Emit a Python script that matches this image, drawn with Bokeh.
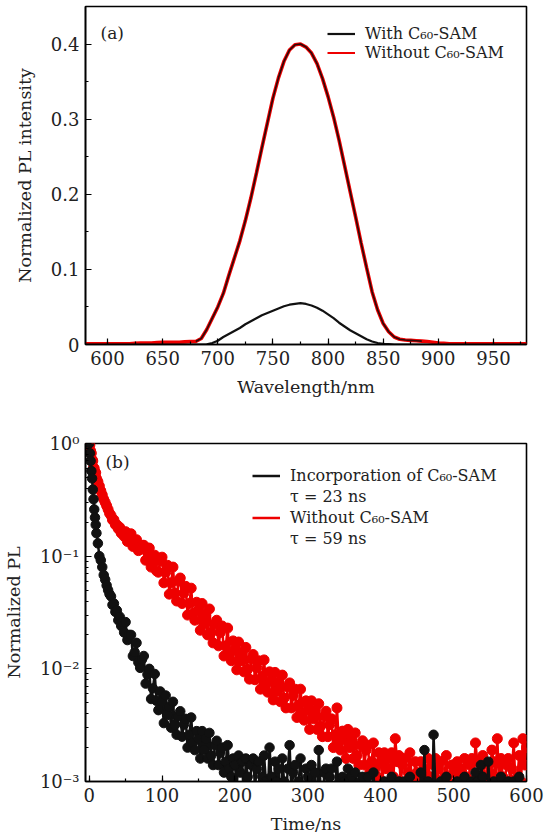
from bokeh.plotting import figure
from bokeh.layouts import column
from bokeh.models import (SingleIntervalTicker, FixedTicker, CustomJSTickFormatter,
                          Legend, LegendItem, Label)
from bokeh.embed import file_html
from bokeh.resources import INLINE

FONT = "DejaVu Serif"

# ---------------- panel (a): PL spectra ----------------
wavelength = [580, 585, 590, 595, 600, 605, 610, 615, 620, 625,
              630, 635, 640, 645, 650, 655, 660, 665, 670, 675,
              680, 685, 690, 695, 700, 705, 710, 715, 720, 725,
              730, 735, 740, 745, 750, 755, 760, 765, 770, 775,
              780, 785, 790, 795, 800, 805, 810, 815, 820, 825,
              830, 835, 840, 845, 850, 855, 860, 865, 870, 875,
              880, 885, 890, 895, 900, 905, 910, 915, 920, 925,
              930, 935, 940, 945, 950, 955, 960, 965, 970, 975,
              980]
pl_without = [0.001, 0.001, 0.001, 0.001, 0.001, 0.001, 0.001, 0.001, 0.001, 0.0015,
              0.002, 0.002, 0.002, 0.0025, 0.003, 0.003, 0.003, 0.003, 0.0035, 0.004,
              0.004, 0.008, 0.020, 0.035, 0.050, 0.068, 0.092, 0.115, 0.138, 0.165,
              0.195, 0.228, 0.262, 0.295, 0.328, 0.355, 0.377, 0.392, 0.399, 0.400,
              0.396, 0.388, 0.374, 0.354, 0.330, 0.303, 0.272, 0.238, 0.204, 0.170,
              0.135, 0.102, 0.070, 0.046, 0.028, 0.017, 0.010, 0.007, 0.006, 0.0055,
              0.005, 0.0045, 0.004, 0.003, 0.002, 0.0015, 0.001, 0.001, 0.001, 0.001,
              0.001, 0.001, 0.001, 0.001, 0.001, 0.001, 0.001, 0.001, 0.001, 0.001,
              0.001]
pl_with = [0, 0, 0, 0, 0, 0, 0, 0, 0, 0,
           0, 0, 0, 0, 0, 0, 0, 0, 0, 0,
           0, 0, 0.0003, 0.002, 0.005, 0.010, 0.014, 0.018, 0.022, 0.027,
           0.031, 0.035, 0.039, 0.042, 0.045, 0.048, 0.051, 0.053, 0.054, 0.055,
           0.054, 0.052, 0.049, 0.045, 0.040, 0.035, 0.029, 0.024, 0.019, 0.015,
           0.011, 0.007, 0.004, 0.002, 0.001, 0.0005, 0, 0, 0, 0,
           0, 0, 0, 0, 0, 0, 0, 0, 0, 0,
           0, 0, 0, 0, 0, 0, 0, 0, 0, 0,
           0]
labels_a = ["With C\u2086\u2080-SAM", "Without C\u2086\u2080-SAM"]

# ---------------- panel (b): TRPL decays ----------------
time_ns = [0, 1, 2, 3, 4, 5, 6, 7, 8, 9,
           10, 12, 14, 16, 18, 20, 22, 24, 26, 28,
           30, 32, 34, 36, 38, 40, 42, 44, 46, 48,
           50, 52.5, 55, 57.5, 60, 62.5, 65, 67.5, 70, 72.5,
           75, 77.5, 80, 82.5, 85, 87.5, 90, 92.5, 95, 97.5,
           100, 102.5, 105, 107.5, 110, 112.5, 115, 117.5, 120, 122.5,
           125, 127.5, 130, 132.5, 135, 137.5, 140, 142.5, 145, 147.5,
           150, 152.5, 155, 157.5, 160, 162.5, 165, 167.5, 170, 172.5,
           175, 177.5, 180, 182.5, 185, 187.5, 190, 192.5, 195, 197.5,
           200, 202.5, 205, 207.5, 210, 212.5, 215, 217.5, 220, 222.5,
           225, 227.5, 230, 232.5, 235, 237.5, 240, 242.5, 245, 247.5,
           250, 252.5, 255, 257.5, 260, 262.5, 265, 267.5, 270, 272.5,
           275, 277.5, 280, 282.5, 285, 287.5, 290, 292.5, 295, 297.5,
           300, 302.5, 305, 307.5, 310, 312.5, 315, 317.5, 320, 322.5,
           325, 327.5, 330, 332.5, 335, 337.5, 340, 342.5, 345, 347.5,
           350, 352.5, 355, 357.5, 360, 362.5, 365, 367.5, 370, 372.5,
           375, 377.5, 380, 382.5, 385, 387.5, 390, 392.5, 395, 397.5,
           400, 402.5, 405, 407.5, 410, 412.5, 415, 417.5, 420, 422.5,
           425, 427.5, 430, 432.5, 435, 437.5, 440, 442.5, 445, 447.5,
           450, 452.5, 455, 457.5, 460, 462.5, 465, 467.5, 470, 472.5,
           475, 477.5, 480, 482.5, 485, 487.5, 490, 492.5, 495, 497.5,
           500, 502.5, 505, 507.5, 510, 512.5, 515, 517.5, 520, 522.5,
           525, 527.5, 530, 532.5, 535, 537.5, 540, 542.5, 545, 547.5,
           550, 552.5, 555, 557.5, 560, 562.5, 565, 567.5, 570, 572.5,
           575, 577.5, 580, 582.5, 585, 587.5, 590, 592.5, 595, 597.5,
           600]
decay_with = [1.00, 0.82, 0.70, 0.57, 0.49, 0.39, 0.32, 0.26, 0.22, 0.19,
              0.16, 0.13, 0.10, 0.092, 0.080, 0.068, 0.062, 0.055, 0.050, 0.046,
              0.044, 0.037, 0.038, 0.032, 0.033, 0.027, 0.029, 0.024, 0.026, 0.021,
              0.026, 0.018, 0.020, 0.020, 0.013, 0.014, 0.017, 0.0114, 0.0102, 0.0121,
              0.013, 0.0074, 0.0089, 0.010, 0.0054, 0.0067, 0.0090, 0.0052, 0.0043, 0.0063,
              0.0051, 0.0033, 0.0058, 0.0039, 0.0046, 0.0030, 0.0051, 0.0032, 0.0026, 0.0038,
              0.0042, 0.0025, 0.0032, 0.0036, 0.0020, 0.0026, 0.0037, 0.0022, 0.0019, 0.0028,
              0.0024, 0.0016, 0.0028, 0.0019, 0.0024, 0.0016, 0.0027, 0.0017, 0.0014, 0.0021,
              0.0023, 0.0014, 0.0018, 0.0020, 0.0012, 0.0015, 0.0021, 0.0013, 0.0011, 0.0016,
              0.0014, 0.0009, 0.0017, 0.0012, 0.0015, 0.0006, 0.0016, 0.0011, 0.0008, 0.0014,
              0.0016, 0.0009, 0.0013, 0.0015, 0.0005, 0.0011, 0.0017, 0.0010, 0.0007, 0.0020,
              0.0011, 0.0005, 0.0015, 0.0010, 0.0013, 0.0004, 0.0016, 0.0010, 0.0007, 0.0013,
              0.0021, 0.0008, 0.0012, 0.0014, 0.0005, 0.0010, 0.0016, 0.0009, 0.0004, 0.0013,
              0.0011, 0.0005, 0.0014, 0.0009, 0.0012, 0.0004, 0.0019, 0.0009, 0.0005, 0.0012,
              0.0013, 0.0006, 0.0011, 0.0013, 0.0004, 0.0009, 0.0015, 0.0008, 0.0004, 0.0011,
              0.0010, 0.0004, 0.0013, 0.0008, 0.0011, 0.0004, 0.0012, 0.0008, 0.0004, 0.0010,
              0.0011, 0.0005, 0.0009, 0.0011, 0.0004, 0.0008, 0.0012, 0.0007, 0.0004, 0.0009,
              0.0008, 0.0004, 0.0010, 0.0007, 0.0009, 0.0004, 0.0011, 0.0006, 0.0004, 0.0009,
              0.0010, 0.0004, 0.0008, 0.0010, 0.0004, 0.0007, 0.0011, 0.0006, 0.0004, 0.0009,
              0.0008, 0.0004, 0.0012, 0.0007, 0.0019, 0.0004, 0.0010, 0.0006, 0.0004, 0.0026,
              0.0009, 0.0004, 0.0008, 0.0010, 0.0004, 0.0007, 0.0011, 0.0006, 0.0004, 0.0009,
              0.0008, 0.0004, 0.0010, 0.0007, 0.0009, 0.0004, 0.0011, 0.0006, 0.0004, 0.0009,
              0.0010, 0.0004, 0.0012, 0.0010, 0.0004, 0.0014, 0.0011, 0.0006, 0.0004, 0.0015,
              0.0008, 0.0004, 0.0010, 0.0007, 0.0009, 0.0004, 0.0011, 0.0006, 0.0004, 0.0009,
              0.0010, 0.0004, 0.0008, 0.0010, 0.0004, 0.0007, 0.0011, 0.0006, 0.0004, 0.0009,
              0.0004]
decay_without = [1.00, 0.97, 0.86, 0.82, 0.72, 0.70, 0.61, 0.60, 0.55, 0.55,
                 0.49, 0.46, 0.42, 0.38, 0.35, 0.32, 0.30, 0.28, 0.26, 0.24,
                 0.23, 0.21, 0.21, 0.19, 0.19, 0.175, 0.18, 0.16, 0.165, 0.15,
                 0.165, 0.135, 0.150, 0.158, 0.122, 0.135, 0.140, 0.112, 0.118, 0.125,
                 0.125, 0.092, 0.108, 0.118, 0.080, 0.088, 0.102, 0.074, 0.072, 0.090,
                 0.098, 0.058, 0.072, 0.083, 0.046, 0.058, 0.080, 0.047, 0.040, 0.060,
                 0.064, 0.038, 0.047, 0.054, 0.030, 0.038, 0.052, 0.031, 0.027, 0.039,
                 0.033, 0.022, 0.038, 0.025, 0.030, 0.020, 0.034, 0.021, 0.017, 0.025,
                 0.027, 0.016, 0.021, 0.024, 0.013, 0.016, 0.023, 0.0136, 0.0118, 0.0177,
                 0.0148, 0.0098, 0.0173, 0.0117, 0.0140, 0.0094, 0.0155, 0.0099, 0.0081, 0.0122,
                 0.0134, 0.0080, 0.0102, 0.0118, 0.0066, 0.0086, 0.0120, 0.0072, 0.0062, 0.0094,
                 0.0079, 0.0053, 0.0093, 0.0063, 0.0076, 0.0051, 0.0088, 0.0055, 0.0045, 0.0069,
                 0.0075, 0.0045, 0.0058, 0.0066, 0.0037, 0.0048, 0.0066, 0.0040, 0.0035, 0.0052,
                 0.0044, 0.0029, 0.0052, 0.0036, 0.0043, 0.0029, 0.0049, 0.0031, 0.0025, 0.0038,
                 0.0042, 0.0025, 0.0032, 0.0036, 0.0020, 0.0026, 0.0045, 0.0022, 0.0019, 0.0028,
                 0.0024, 0.0016, 0.0029, 0.0020, 0.0024, 0.0016, 0.0027, 0.0017, 0.0014, 0.0021,
                 0.0023, 0.0014, 0.0019, 0.0021, 0.0012, 0.0015, 0.0022, 0.0013, 0.0011, 0.0018,
                 0.0015, 0.0010, 0.0018, 0.0013, 0.0016, 0.0010, 0.0018, 0.0011, 0.0024, 0.0015,
                 0.0017, 0.0010, 0.0014, 0.0016, 0.0009, 0.0012, 0.0018, 0.0011, 0.0010, 0.0015,
                 0.0012, 0.0008, 0.0015, 0.0011, 0.0013, 0.0009, 0.0016, 0.0011, 0.0009, 0.0014,
                 0.0016, 0.0010, 0.0013, 0.0015, 0.0009, 0.0011, 0.0017, 0.0010, 0.0009, 0.0014,
                 0.0012, 0.0008, 0.0015, 0.0011, 0.0013, 0.0009, 0.0016, 0.0011, 0.0009, 0.0014,
                 0.0016, 0.0010, 0.0022, 0.0015, 0.0009, 0.0011, 0.0017, 0.0010, 0.0009, 0.0014,
                 0.0012, 0.0019, 0.0015, 0.0011, 0.0024, 0.0009, 0.0016, 0.0011, 0.0009, 0.0014,
                 0.0016, 0.0010, 0.0013, 0.0022, 0.0009, 0.0011, 0.0017, 0.0010, 0.0024, 0.0014,
                 0.0020]
labels_b = ["Incorporation of C\u2086\u2080-SAM", "\u03c4 = 23 ns",
            "Without C\u2086\u2080-SAM", "\u03c4 = 59 ns"]

RED = "#ee0000"
BLACK = "#111111"


def style(p):
    for ax in (p.xaxis[0], p.yaxis[0]):
        ax.axis_line_width = 1.6
        ax.axis_line_color = "black"
        ax.major_tick_in = 6
        ax.major_tick_out = 0
        ax.minor_tick_in = 3
        ax.minor_tick_out = 0
        ax.major_tick_line_width = 1.2
        ax.minor_tick_line_width = 1.2
        ax.major_label_text_font = FONT
        ax.major_label_text_font_size = "18px"
        ax.major_label_text_color = "#222222"
        ax.axis_label_text_font = FONT
        ax.axis_label_text_font_size = "17.5px"
        ax.axis_label_text_font_style = "normal"
        ax.axis_label_text_color = "#222222"
        ax.major_label_standoff = 6
    p.xgrid.visible = False
    p.ygrid.visible = False
    p.outline_line_color = "black"
    p.outline_line_width = 1.6
    p.outline_line_alpha = 1.0
    p.background_fill_color = "white"
    p.border_fill_color = "white"


# ---- figure (a)
p1 = figure(frame_width=441, frame_height=338, min_border_left=83, min_border_right=23,
            min_border_top=6, min_border_bottom=56,
            x_range=(580, 980), y_range=(0, 0.45),
            output_backend="svg", toolbar_location=None)
style(p1)
p1.xaxis.axis_label = "Wavelength/nm"
p1.yaxis.axis_label = "Normalized PL intensity"
p1.xaxis.ticker = SingleIntervalTicker(interval=50, num_minor_ticks=2)
p1.yaxis.ticker = SingleIntervalTicker(interval=0.1, num_minor_ticks=2)
p1.xaxis.axis_label_standoff = 9
p1.yaxis.axis_label_standoff = 13

key_wo = p1.line(wavelength, pl_without, line_color=RED, line_width=2)
p1.line(wavelength, pl_without, line_color=RED, line_width=3.6)
p1.line(wavelength[20:62], pl_without[20:62], line_color="#2a0a0a", line_width=1.6)
key_w = p1.line(wavelength, pl_with, line_color=BLACK, line_width=2.2)

leg1 = Legend(items=[LegendItem(label=labels_a[0], renderers=[key_w]),
                     LegendItem(label=labels_a[1], renderers=[key_wo])],
              location=(242, 282), padding=0, margin=0, spacing=0,
              glyph_width=28, glyph_height=19, label_height=19, label_standoff=10,
              label_text_font=FONT, label_text_font_size="16px", label_text_color="#222222",
              border_line_alpha=0, background_fill_alpha=0)
p1.add_layout(leg1, "center")
p1.add_layout(Label(x=593.6, y=0.4153, text="(a)", text_font=FONT, text_font_size="17px",
                    text_baseline="middle", text_align="left", text_color="#222222"))

# ---- figure (b)
p2 = figure(frame_width=441, frame_height=338, min_border_left=83, min_border_right=23,
            min_border_top=43, min_border_bottom=55,
            x_range=(-5, 600), y_range=(1e-3, 1), y_axis_type="log",
            output_backend="svg", toolbar_location=None)
style(p2)
p2.xaxis.axis_label = "Time/ns"
p2.yaxis.axis_label = "Normalized PL"
p2.xaxis.ticker = SingleIntervalTicker(interval=100, num_minor_ticks=2)
minor_log = [m * 10.0 ** e for e in (-3, -2, -1) for m in range(2, 10)]
p2.yaxis.ticker = FixedTicker(ticks=[1e-3, 1e-2, 1e-1, 1.0], minor_ticks=minor_log)
p2.yaxis.formatter = CustomJSTickFormatter(code="""
    const e = Math.round(Math.log10(tick));
    const sup = {'0':'\u2070','1':'\u00b9','2':'\u00b2','3':'\u00b3','-':'\u207b'};
    return '10' + String(e).split('').map(c => sup[c]).join('');
""")
p2.xaxis.axis_label_standoff = 9
p2.yaxis.axis_label_standoff = 13

r_b_wo = p2.line(time_ns, decay_without, line_color=RED, line_width=2.5)
p2.scatter(time_ns, decay_without, size=10, marker="circle", fill_color=RED, line_color=RED)
r_b_w = p2.line(time_ns, decay_with, line_color=BLACK, line_width=2.5)
p2.scatter(time_ns, decay_with, size=9.5, marker="circle", fill_color=BLACK, line_color=BLACK)
blank = p2.line(x=[], y=[], line_alpha=0)

leg2 = Legend(items=[LegendItem(label=labels_b[0], renderers=[r_b_w]),
                     LegendItem(label=labels_b[1], renderers=[blank]),
                     LegendItem(label=labels_b[2], renderers=[r_b_wo]),
                     LegendItem(label=labels_b[3], renderers=[blank])],
              location=(167, 232), padding=0, margin=0, spacing=0,
              glyph_width=28, glyph_height=21, label_height=21, label_standoff=10,
              label_text_font=FONT, label_text_font_size="16px", label_text_color="#222222",
              border_line_alpha=0, background_fill_alpha=0)
p2.add_layout(leg2, "center")
p2.add_layout(Label(x=22.4, y=0.682, text="(b)", text_font=FONT, text_font_size="17px",
                    text_baseline="middle", text_align="left", text_color="#222222"))

layout = column(p1, p2, spacing=0)
open("out.html", "w").write(file_html(layout, INLINE))
